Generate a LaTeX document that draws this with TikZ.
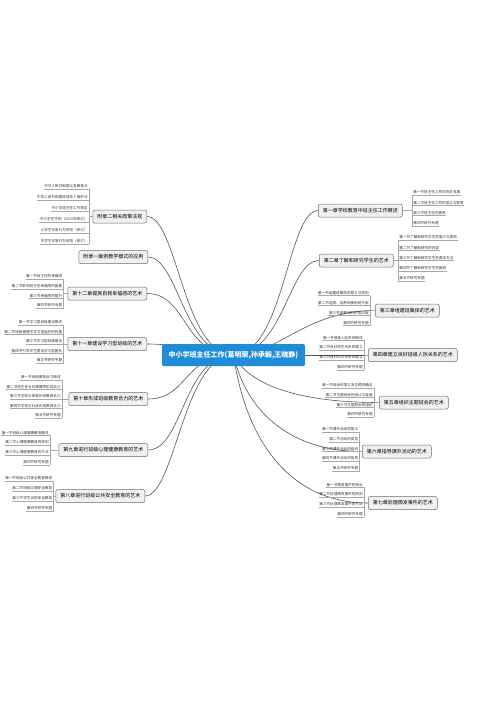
\documentclass[tikz,border=0pt]{standalone}
\usepackage{fontspec}
\setmainfont{Noto Sans CJK SC}
\usetikzlibrary{calc,backgrounds}
\definecolor{rootblue}{HTML}{1E8CD6}
\definecolor{boxfill}{HTML}{F0F0F0}
\definecolor{boxline}{HTML}{6E6E6E}
\definecolor{lnk}{HTML}{555555}
\definecolor{leafln}{HTML}{A8A8A8}
% leaves to the left of a branch: name, bracket x, centre y, spacing, n, list
\newcommand\leavesL[6]{%
  \foreach \txt [count=\i] in {#6}{%
    \coordinate (#1-b\i) at (#2,{#3+(\i-(#5+1)/2)*#4});
    \node[leaf,anchor=south east] (#1-l\i) at ($(#1-b\i)+(-0.8,0)$) {\txt};
  }
  \foreach \i in {1,...,#5}{\draw[leafline] (#1-l\i.south west) -- (#1-b\i);}
  \draw[leafline] (#1-b1) -- (#1-b#5);
  \coordinate (#1-j) at (#2,#3);
  \draw[leafline] (#1.west) -- (#1-j);
}
% leaves to the right of a branch
\newcommand\leavesR[6]{%
  \foreach \txt [count=\i] in {#6}{%
    \coordinate (#1-b\i) at (#2,{#3+(\i-(#5+1)/2)*#4});
    \node[leaf,anchor=south west] (#1-l\i) at ($(#1-b\i)+(0.8,0)$) {\txt};
  }
  \foreach \i in {1,...,#5}{\draw[leafline] (#1-b\i) -- (#1-l\i.south east);}
  \draw[leafline] (#1-b1) -- (#1-b#5);
  \coordinate (#1-j) at (#2,#3);
  \draw[leafline] (#1.east) -- (#1-j);
}
\begin{document}
\begin{tikzpicture}[x=1pt,y=-1pt,
  root/.style={fill=rootblue,text=white,rounded corners=1.5pt,minimum width=143pt,minimum height=22pt,inner sep=0pt,font=\fontsize{7}{8}\selectfont\bfseries},
  branch/.style={draw=boxline,fill=boxfill,rounded corners=2pt,line width=0.5pt,minimum height=13pt,inner xsep=4.5pt,inner ysep=0pt,font=\fontsize{5}{6}\selectfont},
  leaf/.style={inner xsep=0.4pt,inner ysep=0.8pt,font=\fontsize{3.6}{4}\selectfont,text=black!80},
  leafline/.style={draw=leafln,line width=0.35pt},
  conn/.style={draw=lnk,line width=0.6pt}]
\useasboundingbox (0,0) rectangle (500,707);
\node[root] (root) at (233.5,355) {中小学班主任工作(葛明荣,孙承毅,王晓静)};
% right branches
\node[branch,anchor=west] (c1) at (318,210.5) {第一章学校教育中班主任工作概述};
\node[branch,anchor=west] (c2) at (319,260.5) {第二章了解和研究学生的艺术};
\node[branch,anchor=west] (c3) at (375,310.5) {第三章组建班集体的艺术};
\node[branch,anchor=west] (c4) at (368,355) {第四章建立良好班级人际关系的艺术};
\node[branch,anchor=west] (c5) at (379,402.5) {第五章组织主题班会的艺术};
\node[branch,anchor=west] (c6) at (362,451.5) {第六章指导课外活动的艺术};
\node[branch,anchor=west] (c7) at (368,503) {第七章处理偶发事件的艺术};
% left branches
\node[branch,anchor=east] (a2) at (147,216.5) {附录二相关政策法规};
\node[branch,anchor=east] (a1) at (148,257) {附录一案例教学模式的应用};
\node[branch,anchor=east] (c12) at (147,293.5) {第十二章提高自我幸福感的艺术};
\node[branch,anchor=east] (c11) at (147,344) {第十一章建设学习型班级的艺术};
\node[branch,anchor=east] (c10) at (148,399) {第十章形成班级教育合力的艺术};
\node[branch,anchor=east] (c9) at (148,450) {第九章进行班级心理健康教育的艺术};
\node[branch,anchor=east] (c8) at (145,496) {第八章进行班级公共安全教育的艺术};
% leaves
\leavesR{c1}{412}{210.5}{10.3}{4}{第一节班主任工作的历史发展,第二节班主任工作的意义与职责,第三节班主任的素养,第四节研究专题}
\leavesR{c2}{398}{260.5}{10.2}{5}{第一节了解和研究学生的意义与原则,第二节了解和研究的内容,第三节了解和研究学生的基本方法,第四节了解和研究学生的趋势,第五节研究专题}
\leavesL{c3}{370}{310.5}{10}{4}{第一节组建班集体的意义与原则,第二节选拔、培养和使用班干部,第三节班集体的形成过程,第四节研究专题}
\leavesL{c4}{364}{355}{9.8}{4}{第一节班级人际关系概述,第二节良好师生关系的建立,第三节良好同学关系的建立,第四节研究专题}
\leavesL{c5}{374}{402.5}{9.8}{4}{第一节班会的意义及主题的确定,第二节主题班会的设计与准备,第三节主题班会的组织,第四节研究专题}
\leavesL{c6}{359.5}{451.5}{9.7}{5}{第一节课外活动的意义,第二节活动的类型,第三节课外活动的组织,第四节课外活动的指导,第五节研究专题}
\leavesL{c7}{364}{502}{9.8}{4}{第一节偶发事件的特点,第二节处理偶发事件的原则,第三节处理偶发事件的方法,第四节研究专题}
\leavesL{a2}{89}{216.5}{11}{6}{中华人民共和国义务教育法,中华人民共和国未成年人保护法,中小学班主任工作规定,中小学生守则（2015年修订）,小学生日常行为规范（修订）,中学生日常行为规范（修订）}
\leavesL{c12}{63.5}{293.5}{9.6}{4}{第一节班主任的幸福感,第二节影响班主任幸福感的因素,第三节幸福感的提升,第四节研究专题}
\leavesL{c11}{63.5}{344}{9.5}{5}{第一节学习型班级建设概述,第二节班级管理中学习型组织的构建,第三节学习型班级建设,第四节引导学生建设学习型团队,第五节研究专题}
\leavesL{c10}{62}{399}{9.6}{5}{第一节班级教育合力概述,第二节班主任与任课教师形成合力,第三节学校与家庭形成教育合力,第四节学校与社会形成教育合力,第五节研究专题}
\leavesL{c9}{50}{450}{9.8}{4}{第一节班级心理健康教育概述,第二节心理健康教育的原则,第三节心理健康教育的方法,第四节研究专题}
\leavesL{c8}{53.5}{496}{10}{4}{第一节班级公共安全教育概述,第二节班级交通安全教育,第三节学生消防安全教育,第四节研究专题}
% connectors from root
\begin{scope}[on background layer]
\fill[white] (0,0) rectangle (500,707);
\draw[conn] (root.center) .. controls +(50,0) and +(-30,0) .. (c1.west);
\draw[conn] (root.center) .. controls +(50,0) and +(-30,0) .. (c2.west);
\draw[conn] (root.center) .. controls +(45,0) and +(-70,0) .. (c3.west);
\draw[conn] (root.center) -- (c4.west);
\draw[conn] (root.center) .. controls +(15,30) and +(-80,0) .. (c5.west);
\draw[conn] (root.center) .. controls +(13,58) and +(-70,0) .. (c6.west);
\draw[conn] (root.center) .. controls +(13,90) and +(-75,0) .. (c7.west);
\draw[conn] (root.center) .. controls +(-50,0) and +(30,0) .. (a2.east);
\draw[conn] (root.center) .. controls +(-50,0) and +(30,0) .. (a1.east);
\draw[conn] (root.center) .. controls +(-50,0) and +(40,0) .. (c12.east);
\draw[conn] (root.center) .. controls +(-40,0) and +(40,0) .. (c11.east);
\draw[conn] (root.center) .. controls +(-50,0) and +(40,0) .. (c10.east);
\draw[conn] (root.center) .. controls +(-50,0) and +(35,0) .. (c9.east);
\draw[conn] (root.center) .. controls +(-50,0) and +(30,0) .. (c8.east);
\end{scope}
\end{tikzpicture}
\end{document}
